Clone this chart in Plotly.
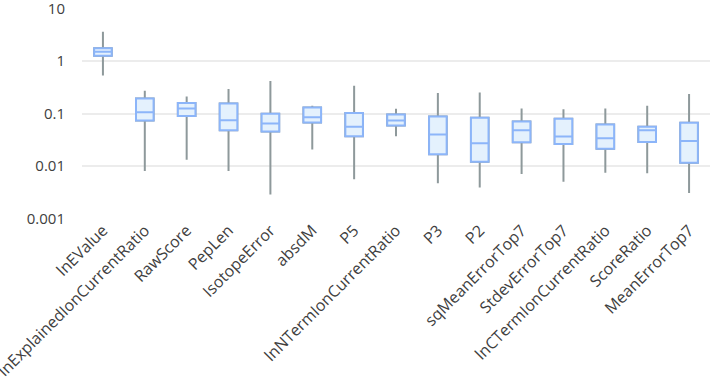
import plotly.graph_objects as go

categories = ["lnEValue", "lnExplainedIonCurrentRatio", "RawScore", "PepLen", "IsotopeError",
              "absdM", "P5", "lnNTermIonCurrentRatio", "P3", "P2", "sqMeanErrorTop7",
              "StdevErrorTop7", "lnCTermIonCurrentRatio", "ScoreRatio", "MeanErrorTop7"]
upper = [3.58, 0.271, 0.211, 0.292, 0.415, 0.140, 0.338, 0.123, 0.245, 0.252, 0.1246, 0.121, 0.1246, 0.140, 0.234]
q3 = [1.74, 0.193, 0.158, 0.155, 0.0987, 0.130, 0.102, 0.0957, 0.0877, 0.0828, 0.0704, 0.0792, 0.0617, 0.0557, 0.0665]
median = [1.49, 0.106, 0.1246, 0.0748, 0.0644, 0.0853, 0.0557, 0.0735, 0.0397, 0.0272, 0.0482, 0.0364, 0.034, 0.0482, 0.0301]
q1 = [1.25, 0.0735, 0.0892, 0.0482, 0.0453, 0.0673, 0.0371, 0.059, 0.0168, 0.01213, 0.0285, 0.0264, 0.0215, 0.0288, 0.0116]
lower = [0.53, 0.00806, 0.01325, 0.00806, 0.0029, 0.0206, 0.0056, 0.037, 0.00475, 0.00394, 0.00707, 0.00504, 0.00748, 0.0073, 0.0031]
y_ticks = [0.001, 0.01, 0.1, 1, 10]
y_tick_labels = ["0.001", "0.01", "0.1", "1", "10"]

fig = go.Figure()
# whiskers (gray)
fig.add_trace(go.Box(
    x=categories, q1=q1, median=median, q3=q3,
    lowerfence=lower, upperfence=upper,
    line=dict(color="#8e999b", width=2), fillcolor="rgba(0,0,0,0)",
    whiskerwidth=0, width=0.42, showlegend=False, hoverinfo="skip"))
# boxes (blue)
fig.add_trace(go.Box(
    x=categories, q1=q1, median=median, q3=q3,
    lowerfence=q1, upperfence=q3,
    line=dict(color="#8cb5f9", width=2), fillcolor="#e4f1fd",
    whiskerwidth=0, width=0.42, showlegend=False))

fig.update_layout(
    width=710, height=383,
    margin=dict(l=82, r=0, t=8, b=164, autoexpand=False),
    paper_bgcolor="white", plot_bgcolor="white",
    boxmode="overlay",
    font=dict(family="Open Sans", size=14, color="#404040"),
    xaxis=dict(tickangle=-45, showgrid=False, showline=False, zeroline=False,
               range=[-0.5, 14.5], autorange=False, ticklabeloverflow="allow",
               ticks="", automargin=False, ticklabelstandoff=-2,
               tickfont=dict(size=16, color="#404040")),
    yaxis=dict(type="log", range=[-3.005, 1.005], autorange=False,
               tickmode="array", tickvals=y_ticks, ticktext=y_tick_labels,
               showgrid=True, gridcolor="#ececec", gridwidth=1.5, zeroline=False,
               showline=False, ticks="", ticklabelstandoff=16, automargin=False,
               ticklabeloverflow="allow",
               tickfont=dict(size=15, color="#404040")),
)
fig.write_html("out.html", config={"displayModeBar": False},
               post_script="document.body.style.margin='0px';")
